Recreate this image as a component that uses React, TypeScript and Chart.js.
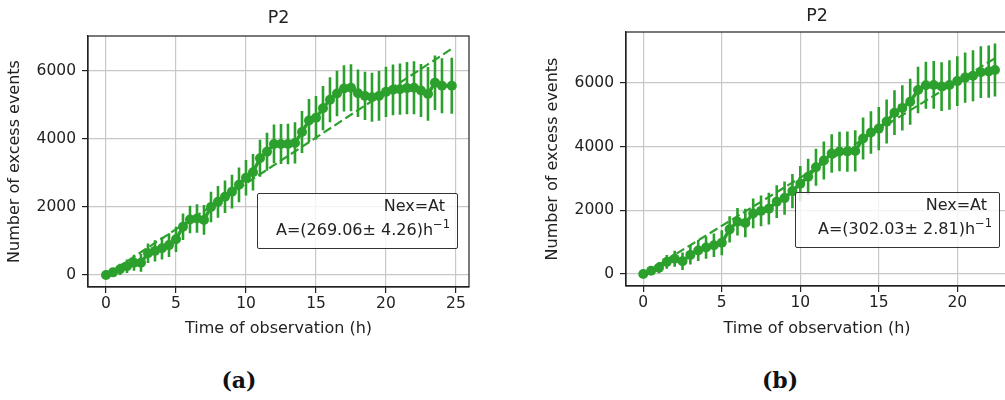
import React, { useEffect, useRef } from "react";
import { Chart, registerables } from "chart.js";

Chart.register(...registerables);

const GREEN = "#2ca02c";
const FONT = "DejaVu Sans";
const TEXT = "#222222";

// ---- Panel (a) ----
const timesA = [
  0, 0.5, 1, 1.5, 2, 2.5, 3, 3.5, 4, 4.5, 5, 5.5, 6, 6.5, 7, 7.5, 8, 8.5, 9, 9.5,
  10, 10.5, 11, 11.5, 12, 12.5, 13, 13.5, 14, 14.5, 15, 15.5, 16, 16.5, 17, 17.5,
  18, 18.5, 19, 19.5, 20, 20.5, 21, 21.5, 22, 22.5, 23, 23.5, 24, 24.7,
];
const countsA = [
  0, 80, 170, 260, 360, 360, 640, 710, 790, 880, 1050, 1420, 1630, 1660, 1620, 2000,
  2150, 2300, 2450, 2650, 2860, 3020, 3430, 3620, 3850, 3850, 3850, 3880, 4200, 4540,
  4620, 4900, 5150, 5330, 5480, 5500, 5340, 5260, 5220, 5260, 5380, 5440, 5460, 5490,
  5500, 5420, 5320, 5650, 5560, 5560,
];
const errorsA = [
  20, 115, 165, 200, 235, 260, 285, 310, 330, 350, 370, 390, 405, 420, 435, 450, 465,
  480, 495, 510, 520, 535, 545, 560, 570, 585, 595, 605, 615, 630, 640, 650, 660, 670,
  680, 690, 700, 710, 720, 730, 740, 745, 755, 765, 775, 780, 790, 800, 810, 820,
];
const slopeA = 269.06;
const slopeErrA = 4.26;
const xTicksA = [0, 5, 10, 15, 20, 25];

// ---- Panel (b) ----
const timesB = [
  0, 0.5, 1, 1.5, 2, 2.5, 3, 3.5, 4, 4.5, 5, 5.5, 6, 6.5, 7, 7.5, 8, 8.5, 9, 9.5,
  10, 10.5, 11, 11.5, 12, 12.5, 13, 13.5, 14, 14.5, 15, 15.5, 16, 16.5, 17, 17.5,
  18, 18.5, 19, 19.5, 20, 20.5, 21, 21.5, 22, 22.4,
];
const countsB = [
  0, 100, 200, 380, 480, 400, 600, 740, 830, 900, 980, 1400, 1640, 1600, 1900, 1980,
  2050, 2270, 2380, 2600, 2830, 3050, 3350, 3560, 3780, 3840, 3840, 3860, 4250, 4440,
  4560, 4780, 5060, 5210, 5400, 5770, 5920, 5930, 5880, 5930, 6050, 6160, 6220, 6330,
  6350, 6400,
];
const errorsB = [
  20, 125, 175, 215, 250, 275, 305, 330, 350, 370, 390, 410, 430, 445, 465, 480, 495,
  510, 525, 540, 555, 565, 580, 595, 605, 620, 630, 645, 655, 665, 680, 690, 700, 710,
  720, 730, 740, 750, 765, 775, 780, 790, 800, 810, 820, 830,
];
const slopeB = 302.03;
const slopeErrB = 2.81;
const xTicksB = [0, 5, 10, 15, 20];

const yTicks = [0, 2000, 4000, 6000];
const titleText = "P2";
const xTitle = "Time of observation (h)";
const yTitle = "Number of excess events";
const fitLabel = "Nex=At";

type PanelProps = {
  times: number[];
  counts: number[];
  errors: number[];
  slope: number;
  xTicks: number[];
  xMin: number;
  xMax: number;
  yMin: number;
  yMax: number;
  left: number;
  width: number;
  padRight: number;
  titlePadTop: number;
  titlePadBottom: number;
  xAxisHeight: number;
};

function Panel(p: PanelProps) {
  const ref = useRef<HTMLCanvasElement | null>(null);
  useEffect(() => {
    if (!ref.current) return;
    const pts = p.times.map((t, i) => ({ x: t, y: p.counts[i] }));
    const tEnd = p.times[p.times.length - 1];
    const fit = [
      { x: 0, y: 0 },
      { x: tEnd, y: p.slope * tEnd },
    ];
    const errorBars = {
      id: "errorBars",
      beforeDatasetsDraw(chart: any) {
        const { ctx, chartArea, scales } = chart;
        ctx.save();
        ctx.beginPath();
        ctx.rect(chartArea.left, chartArea.top, chartArea.right - chartArea.left, chartArea.bottom - chartArea.top);
        ctx.clip();
        ctx.strokeStyle = GREEN;
        ctx.lineWidth = 2.6;
        ctx.beginPath();
        for (let i = 0; i < p.times.length; i++) {
          const x = scales.x.getPixelForValue(p.times[i]);
          const y1 = scales.y.getPixelForValue(p.counts[i] - p.errors[i]);
          const y2 = scales.y.getPixelForValue(p.counts[i] + p.errors[i]);
          ctx.moveTo(x, y1);
          ctx.lineTo(x, y2);
        }
        ctx.stroke();
        ctx.restore();
      },
    };
    const frame = {
      id: "frame",
      afterDraw(chart: any) {
        const { ctx, chartArea } = chart;
        ctx.save();
        ctx.strokeStyle = TEXT;
        ctx.lineWidth = 1.2;
        ctx.strokeRect(chartArea.left, chartArea.top, chartArea.right - chartArea.left, chartArea.bottom - chartArea.top);
        ctx.restore();
      },
    };
    const chart = new Chart(ref.current, {
      type: "line",
      data: {
        datasets: [
          {
            label: "fit",
            data: fit,
            borderColor: GREEN,
            borderWidth: 2.2,
            borderDash: [9, 4],
            pointRadius: 0,
            fill: false,
            order: 0,
          },
          {
            label: "data",
            data: pts,
            borderColor: GREEN,
            backgroundColor: GREEN,
            borderWidth: 3.5,
            pointRadius: 5,
            pointBorderWidth: 0,
            pointBackgroundColor: GREEN,
            fill: false,
            order: 1,
          },
        ],
      },
      options: {
        animation: false,
        responsive: false,
        maintainAspectRatio: false,
        events: [],
        layout: { padding: { left: 0, right: p.padRight, top: 0, bottom: 0 } },
        plugins: {
          legend: { display: false },
          tooltip: { enabled: false },
          title: {
            display: true,
            text: titleText,
            fullSize: false,
            color: TEXT,
            font: { family: FONT, size: 17.5, weight: "normal" },
            padding: { top: p.titlePadTop, bottom: p.titlePadBottom },
          },
        },
        scales: {
          x: {
            type: "linear",
            min: p.xMin,
            max: p.xMax,
            afterFit: (s: any) => {
              s.height = p.xAxisHeight;
            },
            afterBuildTicks: (s: any) => {
              s.ticks = p.xTicks.map((v) => ({ value: v }));
            },
            ticks: {
              color: TEXT,
              font: { family: FONT, size: 15.5 },
              padding: 2,
              maxRotation: 0,
              autoSkip: false,
              callback: (v: any) => String(v),
            },
            grid: { color: "#c8c8c8", lineWidth: 1.2, tickLength: 6, tickColor: TEXT, tickWidth: 1.2 },
            border: { display: true, color: TEXT, width: 1.2 },
            title: {
              display: true,
              text: xTitle,
              color: TEXT,
              font: { family: FONT, size: 16 },
              padding: { top: 0, bottom: 6.4 },
            },
          },
          y: {
            type: "linear",
            min: p.yMin,
            max: p.yMax,
            afterFit: (s: any) => {
              s.width = 88;
            },
            afterBuildTicks: (s: any) => {
              s.ticks = yTicks.map((v) => ({ value: v }));
            },
            ticks: {
              color: TEXT,
              font: { family: FONT, size: 15.5 },
              padding: 6,
              autoSkip: false,
              callback: (v: any) => String(v),
            },
            grid: { color: "#c8c8c8", lineWidth: 1.2, tickLength: 6, tickColor: TEXT, tickWidth: 1.2 },
            border: { display: true, color: TEXT, width: 1.2 },
            title: {
              display: true,
              text: yTitle,
              color: TEXT,
              font: { family: FONT, size: 16 },
              padding: { top: 5, bottom: 0 },
            },
          },
        },
      },
      plugins: [errorBars, frame],
    } as any);
    return () => chart.destroy();
  }, []);
  return (
    <canvas
      ref={ref}
      width={p.width}
      height={345}
      style={{ position: "absolute", left: p.left, top: 0, width: p.width, height: 345 }}
    />
  );
}

function LegendBox(props: { left: number; top: number; width: number; slope: number; err: number; dy: number }) {
  const lineStyle: React.CSSProperties = {
    position: "absolute",
    right: 0,
    whiteSpace: "nowrap",
    lineHeight: "24px",
    fontFamily: FONT,
    fontSize: 16,
    color: TEXT,
  };
  return (
    <div
      style={{
        position: "absolute",
        left: props.left,
        top: props.top,
        width: props.width,
        height: 56,
        boxSizing: "border-box",
        border: "1.3px solid #333",
        borderRadius: 2,
        background: "rgba(255,255,255,0.8)",
      }}
    >
      <div style={{ ...lineStyle, top: props.dy, paddingRight: 12 }}>{fitLabel}</div>
      <div style={{ ...lineStyle, top: props.dy + 24, paddingRight: 7 }}>
        A=({props.slope.toFixed(2)}± {props.err.toFixed(2)})h
        <sup style={{ fontSize: 11.5, verticalAlign: 0, position: "relative", top: -7 }}>−1</sup>
      </div>
    </div>
  );
}

const captionStyle: React.CSSProperties = {
  position: "absolute",
  top: 367,
  textAlign: "center",
  fontFamily: "DejaVu Serif",
  fontWeight: "bold",
  fontSize: 22,
  lineHeight: "26px",
  color: "#111",
};

export default function App() {
  return (
    <div
      style={{
        position: "absolute",
        left: 0,
        top: 0,
        width: 1005,
        height: 400,
        overflow: "hidden",
        background: "#ffffff",
      }}
    >
      <Panel
        times={timesA}
        counts={countsA}
        errors={errorsA}
        slope={slopeA}
        xTicks={xTicksA}
        xMin={-1.286}
        xMax={25.93}
        yMin={-350}
        yMax={7020}
        left={0}
        width={490}
        padRight={21}
        titlePadTop={8}
        titlePadBottom={7}
        xAxisHeight={58}
      />
      <Panel
        times={timesB}
        counts={countsB}
        errors={errorsB}
        slope={slopeB}
        xTicks={xTicksB}
        xMin={-1.1}
        xMax={23.23}
        yMin={-376}
        yMax={7590}
        left={538}
        width={490}
        padRight={20}
        titlePadTop={5.5}
        titlePadBottom={5.5}
        xAxisHeight={59}
      />
      <LegendBox left={257} top={193} width={201} slope={slopeA} err={slopeErrA} dy={0} />
      <LegendBox left={795} top={192} width={205} slope={slopeB} err={slopeErrB} dy={0} />
      <div style={{ ...captionStyle, left: 0, width: 478 }}>(a)</div>
      <div style={{ ...captionStyle, left: 560, width: 440 }}>(b)</div>
    </div>
  );
}
